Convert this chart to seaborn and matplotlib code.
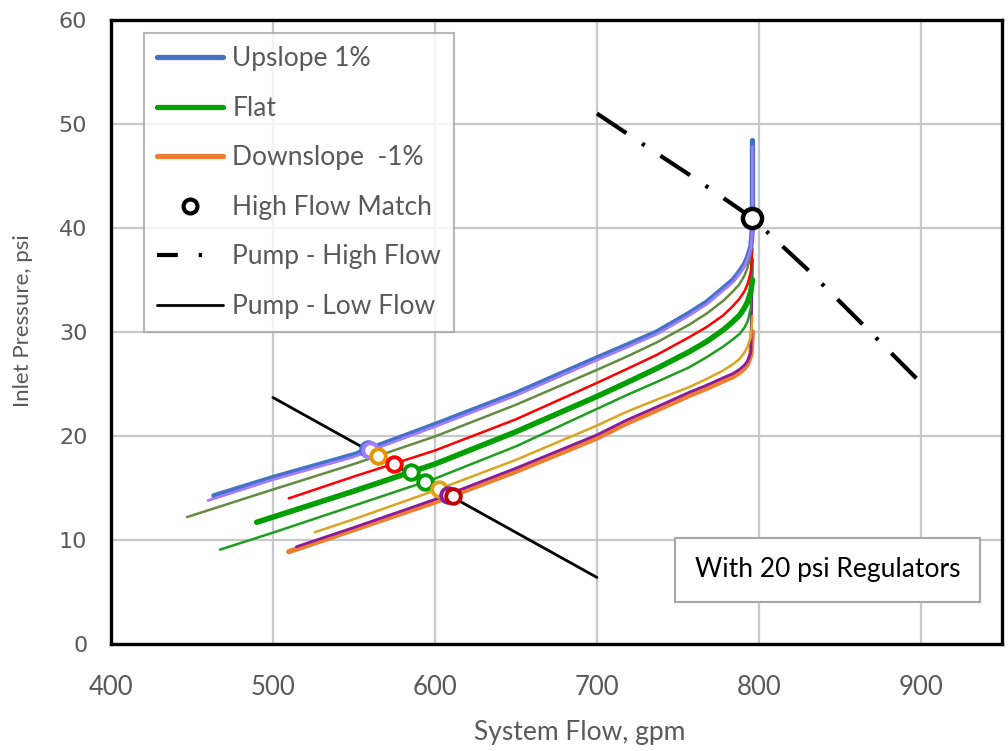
import numpy as np
import pandas as pd
import matplotlib
matplotlib.use("Agg")
import matplotlib.pyplot as plt
from matplotlib.lines import Line2D
import seaborn as sns

# ---------------- data ----------------
# System curves: flow (gpm) vs inlet pressure (psi)
up_x   = [463.6, 500, 550, 600, 650, 700, 718, 737, 757, 768, 778, 784, 788, 791, 793, 795, 796, 796]
up_y   = [14.25, 16.0, 18.2, 21.1, 24.1, 27.5, 28.7, 30.0, 31.8, 32.9, 34.2, 35.0, 35.8, 36.5, 37.2, 38.2, 40.0, 48.4]
lav_x  = [460.0, 500, 550, 600, 650, 700, 718, 737, 757, 768, 778, 784, 788, 791, 793, 795, 796, 796]
lav_y  = [13.8, 15.8, 18.0, 20.9, 23.9, 27.3, 28.5, 29.8, 31.6, 32.7, 34.0, 34.8, 35.6, 36.3, 37.0, 38.0, 40.0, 47.8]
olv_x  = [447, 500, 550, 600, 650, 700, 718, 737, 757, 768, 778, 784, 788, 791, 793, 795, 796]
olv_y  = [12.2, 14.85, 17.3, 19.95, 23.0, 26.35, 27.6, 29.0, 30.7, 31.8, 33.0, 33.9, 34.6, 35.4, 36.2, 37.5, 40.0]
red_x  = [509.8, 550, 600, 650, 700, 718, 737, 757, 768, 778, 784, 788, 791, 793, 795, 796]
red_y  = [14.0, 16.1, 18.6, 21.6, 25.1, 26.4, 27.8, 29.5, 30.5, 31.6, 32.5, 33.2, 33.9, 34.6, 35.8, 38.0]
flat_x = [490, 500, 550, 600, 650, 700, 718, 737, 757, 768, 778, 784, 788, 791, 793, 795, 796]
flat_y = [11.7, 12.2, 14.7, 17.3, 20.4, 23.8, 25.1, 26.5, 28.1, 29.1, 30.2, 31.0, 31.6, 32.3, 32.9, 33.9, 35.0]
gth_x  = [467.3, 500, 550, 600, 650, 700, 718, 737, 757, 768, 778, 784, 788, 791, 793, 795, 796]
gth_y  = [9.07, 10.7, 13.3, 15.9, 19.0, 22.6, 23.9, 25.2, 26.6, 27.6, 28.6, 29.3, 29.8, 30.4, 31.0, 32.3, 43.0]
gld_x  = [526, 550, 600, 650, 700, 718, 737, 757, 768, 778, 784, 788, 791, 793, 795, 796]
gld_y  = [10.75, 12.0, 14.75, 17.7, 21.0, 22.3, 23.5, 24.7, 25.5, 26.3, 26.9, 27.4, 28.0, 28.6, 29.5, 31.5]
pur_x  = [514.5, 550, 600, 650, 700, 718, 737, 757, 768, 778, 784, 788, 791, 793, 795, 796]
pur_y  = [9.35, 11.2, 13.9, 16.9, 20.1, 21.5, 22.8, 24.2, 24.9, 25.6, 26.0, 26.4, 26.8, 27.2, 28.0, 37.0]
down_x = [509.8, 550, 600, 650, 700, 718, 737, 757, 768, 778, 784, 788, 791, 793, 795, 796]
down_y = [8.87, 11.0, 13.65, 16.6, 19.8, 21.2, 22.5, 23.9, 24.6, 25.3, 25.7, 26.1, 26.5, 26.9, 27.8, 30.0]

# Pump curves
pump_hi_x = [700, 726, 763, 795.5, 830, 861, 900]
pump_hi_y = [51.0, 48.3, 44.5, 41.0, 36.0, 31.2, 25.1]
pump_lo_x = [500, 700]
pump_lo_y = [23.7, 6.4]

# Low-flow match points
match_x = [558.5, 559.8, 565.0, 574.5, 585.2, 593.9, 602.7, 607.9, 611.0]
match_y = [18.75, 18.65, 18.04, 17.3, 16.5, 15.58, 14.87, 14.36, 14.2]
match_colors = ["#4472C4", "#A07CFF", "#E69500", "#FF0000", "#00A000",
                "#00A000", "#DAA520", "#8B1A9B", "#C00000"]

# High-flow match point
hf_x = [795.5]
hf_y = [41.0]

legend_labels = ["Upslope 1%", "Flat", "Downslope  -1%", "High Flow Match",
                 "Pump - High Flow", "Pump - Low Flow"]
x_ticks = [400, 500, 600, 700, 800, 900]
y_ticks = [0, 10, 20, 30, 40, 50, 60]

# ---------------- plot ----------------
sns.set_theme(style="white")
plt.rcParams['font.family'] = ['Lato', 'DejaVu Sans']

fig = plt.figure(figsize=(10.08, 7.51), dpi=100)
ax = fig.add_axes([0.110, 0.1425, 0.884, 0.831])

curves = [
    (down_x, down_y, "#ED7D31", 3.8),
    (pur_x, pur_y, "#8B1A9B", 2.0),
    (gld_x, gld_y, "#DAA520", 1.8),
    (gth_x, gth_y, "#1E9E1E", 1.8),
    (flat_x, flat_y, "#00A000", 4.0),
    (red_x, red_y, "#FF0000", 1.8),
    (olv_x, olv_y, "#638C3E", 1.8),
    (up_x, up_y, "#4472C4", 3.8),
    (lav_x, lav_y, "#A07CFF", 2.0),
]
for xs, ys, c, lw in curves:
    d = pd.DataFrame({"x": xs, "y": ys})
    sns.lineplot(data=d, x="x", y="y", sort=False, estimator=None, color=c,
                 linewidth=lw, ax=ax, zorder=3, solid_capstyle="round",
                 solid_joinstyle="round")

d_lo = pd.DataFrame({"x": pump_lo_x, "y": pump_lo_y})
sns.lineplot(data=d_lo, x="x", y="y", sort=False, estimator=None, color="black",
             linewidth=2.0, ax=ax, zorder=4)
d_hi = pd.DataFrame({"x": pump_hi_x, "y": pump_hi_y})
sns.lineplot(data=d_hi, x="x", y="y", sort=False, estimator=None, color="black",
             linewidth=3.0, ax=ax, zorder=4)
ax.lines[-1].set_dashes((8.5, 4.5, 0.8, 4.5))

for mx, my, mc in zip(match_x, match_y, match_colors):
    ax.plot(mx, my, marker="o", markersize=10.5, markerfacecolor="white",
            markeredgecolor=mc, markeredgewidth=2.8, linestyle="none", zorder=5)

sns.scatterplot(x=hf_x, y=hf_y, ax=ax, s=190, facecolor="white",
                edgecolor="black", linewidth=3.2, zorder=6)

ax.set_xlim(400, 950)
ax.set_ylim(0, 60)
ax.set_xticks(x_ticks)
ax.set_yticks(y_ticks)
ax.grid(True, color="#C8C8C8", linewidth=1.6, zorder=0)
ax.set_axisbelow(True)
for s in ax.spines.values():
    s.set_color("black")
    s.set_linewidth(2.4)
ax.tick_params(axis="x", length=0, pad=22, labelsize=18.5, labelcolor="#595959")
ax.tick_params(axis="y", length=0, pad=17, labelsize=16, labelcolor="#595959")
for t in ax.get_yticklabels():
    t.set_fontfamily(["DejaVu Sans"])
ax.set_xlabel("System Flow, gpm", fontsize=19, color="#595959", va="center")
ax.set_ylabel("Inlet Pressure, psi", fontsize=16, color="#595959", va="center")
ax.xaxis.set_label_coords(0.526, -0.1426)
ax.yaxis.set_label_coords(-0.099, 0.518)

handles = [
    Line2D([], [], color="#4472C4", lw=3.8),
    Line2D([], [], color="#00A000", lw=3.8),
    Line2D([], [], color="#ED7D31", lw=3.8),
    Line2D([], [], marker="o", color="black", markerfacecolor="white",
           markeredgewidth=3, markersize=10, linestyle="none"),
    Line2D([], [], color="black", lw=3, dashes=(5, 5, 0.8, 6)),
    Line2D([], [], color="black", lw=2),
]
leg = ax.legend(handles, legend_labels, loc="upper left", bbox_to_anchor=(0.037, 0.979),
                fontsize=19, labelcolor="#595959", frameon=True, fancybox=False,
                handlelength=2.5, labelspacing=0.93, borderpad=0.5,
                handletextpad=0.35, borderaxespad=0)
leg.get_frame().set_edgecolor("#A6A6A6")
leg.get_frame().set_linewidth(1.5)
leg.set_zorder(7)

ax.text(0.804, 0.1186, "With 20 psi Regulators", transform=ax.transAxes,
        fontsize=19, color="black", ha="center", va="center", zorder=8,
        bbox=dict(boxstyle="square,pad=0.75", facecolor="white",
                  edgecolor="#A6A6A6", linewidth=1.5))

fig.savefig("out.png", dpi=100)
